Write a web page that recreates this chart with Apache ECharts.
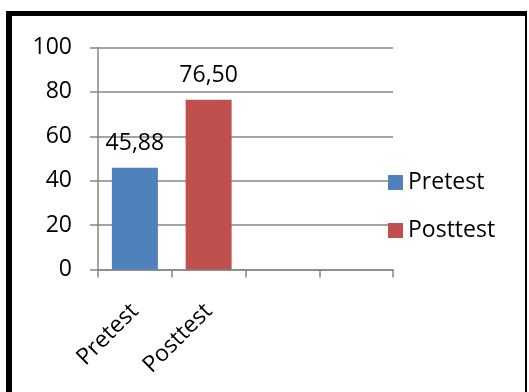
<!DOCTYPE html>
<html>
<head>
<meta charset="utf-8">
<script src="https://cdn.jsdelivr.net/npm/echarts@6/dist/echarts.min.js"></script>
<style>
  html, body { margin: 0; padding: 0; background: #fff; }
  #chart { width: 529px; height: 392px; }
</style>
</head>
<body>
<div id="chart"></div>
<script>
// Category slots on the x axis (two labelled, two left empty)
const categories = ['Pretest', 'Posttest', '', ''];
// Mean score per test
const pretestValues = [45.88, null, null, null];
const posttestValues = [null, 76.50, null, null];
// Value axis ticks
const yTicks = [0, 20, 40, 60, 80, 100];

const FONT = '"Open Sans", sans-serif';
const FONT_SIZE = 23;
const AXIS_GREY = '#868686';

const chart = echarts.init(document.getElementById('chart'), null, { renderer: 'canvas' });

const fmt = p => (p.value == null ? '' : Number(p.value).toFixed(2).replace('.', ','));

const barLabel = {
  show: true,
  position: 'top',
  distance: 13,
  formatter: fmt,
  color: '#000',
  fontFamily: FONT,
  fontSize: FONT_SIZE
};

chart.setOption({
  animation: false,
  backgroundColor: '#fff',
  grid: { left: 98, right: 136, top: 47.5, bottom: 122.5, containLabel: false },
  legend: {
    orient: 'vertical',
    left: 388,
    top: 171,
    padding: 0,
    itemWidth: 15,
    itemHeight: 15,
    itemGap: 25,
    icon: 'rect',
    textStyle: { fontFamily: FONT, fontSize: FONT_SIZE, color: '#000' },
    data: ['Pretest', 'Posttest']
  },
  xAxis: {
    type: 'category',
    data: categories,
    boundaryGap: true,
    axisLine: { show: true, lineStyle: { color: AXIS_GREY, width: 1.5 } },
    axisTick: { show: true, length: 8, alignWithLabel: false, lineStyle: { color: AXIS_GREY, width: 1.5 } },
    axisLabel: {
      interval: 0,
      rotate: 45,
      margin: 38,
      fontFamily: FONT,
      fontSize: FONT_SIZE,
      color: '#000'
    },
    splitLine: { show: false }
  },
  yAxis: {
    type: 'value',
    min: yTicks[0],
    max: yTicks[yTicks.length - 1],
    interval: yTicks[1] - yTicks[0],
    axisLine: { show: true, lineStyle: { color: AXIS_GREY, width: 1.5 } },
    axisTick: { show: true, length: 8, lineStyle: { color: AXIS_GREY, width: 1.5 } },
    axisLabel: { margin: 26, fontFamily: FONT, fontSize: FONT_SIZE, color: '#000' },
    splitLine: { show: true, lineStyle: { color: AXIS_GREY, width: 1.5 } }
  },
  series: [
    {
      name: 'Pretest',
      type: 'bar',
      data: pretestValues,
      barWidth: 46,
      barGap: '-100%',
      itemStyle: { color: '#4F81BD' },
      label: barLabel
    },
    {
      name: 'Posttest',
      type: 'bar',
      data: posttestValues,
      barWidth: 46,
      itemStyle: { color: '#C0504D' },
      label: barLabel
    }
  ],
  graphic: [
    // frame around the chart (top, left and right edges)
    { type: 'rect', shape: { x: 6, y: 11, width: 521, height: 5 }, style: { fill: '#000' }, silent: true },
    { type: 'rect', shape: { x: 6, y: 11, width: 6, height: 381 }, style: { fill: '#000' }, silent: true },
    { type: 'rect', shape: { x: 525, y: 11, width: 2, height: 381 }, style: { fill: '#000' }, silent: true }
  ]
});
</script>
</body>
</html>
